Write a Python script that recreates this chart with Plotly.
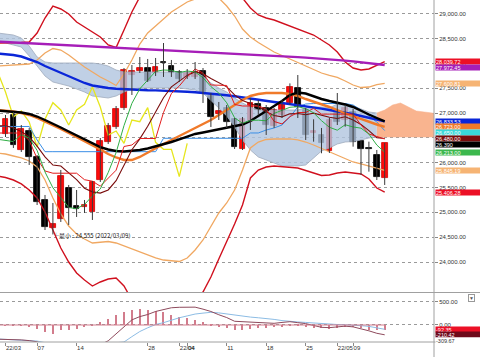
import plotly.graph_objects as go

# ---------------- data ----------------
dates = ["2022-03-01","2022-03-02","2022-03-03","2022-03-04","2022-03-07","2022-03-08","2022-03-09","2022-03-10","2022-03-11",
         "2022-03-14","2022-03-15","2022-03-16","2022-03-17","2022-03-18","2022-03-22","2022-03-23","2022-03-24","2022-03-25",
         "2022-03-28","2022-03-29","2022-03-30","2022-03-31","2022-04-01","2022-04-04","2022-04-05","2022-04-06","2022-04-07",
         "2022-04-08","2022-04-11","2022-04-12","2022-04-13","2022-04-14","2022-04-15","2022-04-18","2022-04-19","2022-04-20",
         "2022-04-21","2022-04-22","2022-04-25","2022-04-26","2022-04-27","2022-04-28","2022-05-02","2022-05-06","2022-05-09",
         "2022-05-10","2022-05-11","2022-05-12","2022-05-13"]

opens = [26581, 26964, 26258, 26641, 26117, 25250, 24686, 24867, 25492, 25129, 25109, 25008, 25653, 26420, 26722, 27105,
         27770, 27851, 27911, 27811, 28033, 27952, 27831, 27730, 27730, 27851, 27347, 26983, 27105, 26877, 26272, 26829,
         27179, 27098, 26742, 26963, 27212, 27515, 27064, 26601, 26560, 26238, 27004, 26863, 27031, 26440, 26305, 26157, 25687]
highs = [26964, 27024, 26762, 26702, 26157, 25351, 25190, 25855, 25553, 25452, 25250, 25633, 26500, 26803, 27145, 27911,
         27972, 28133, 28093, 28113, 28415, 28073, 27871, 27891, 28032, 27911, 27408, 27226, 27165, 26903, 26923, 27307,
         27266, 27165, 27105, 27266, 27601, 27770, 27105, 26877, 26702, 26903, 27407, 27165, 27085, 26460, 26426, 26258, 26400]
lows = [26520, 26299, 26218, 25956, 25149, 24645, 24555, 24807, 24746, 24908, 24988, 24847, 25613, 26379, 26682, 27065,
        27367, 27811, 27629, 27750, 27730, 27730, 27629, 27690, 27690, 27206, 26722, 26863, 26702, 26278, 26258, 26662,
        26963, 26561, 26702, 26903, 27165, 26903, 26460, 26426, 26192, 26198, 26762, 26728, 26325, 25754, 25821, 25653, 25553]
closes = [26883, 26359, 26682, 26117, 25210, 24706, 24766, 25734, 25089, 25069, 25149, 25613, 26440, 26742, 27085, 27871,
          27851, 27911, 27649, 27932, 28013, 27811, 27690, 27811, 27831, 27428, 26923, 27044, 26823, 26319, 26877, 27212,
          27064, 26762, 27064, 27179, 27528, 27125, 26560, 26641, 26393, 26863, 26829, 27111, 26413, 26272, 26272, 25720, 26390]

# indicator lines start one session earlier (2022-02-28 = index -1)
ma_long = [28443, 28435, 28427, 28417, 28409, 28401, 28393, 28385, 28379, 28371, 28363, 28355, 28347, 28341, 28333, 28324,
           28316, 28306, 28298, 28288, 28280, 28272, 28262, 28254, 28244, 28234, 28224, 28218, 28212, 28205, 28199, 28191,
           28183, 28173, 28165, 28157, 28147, 28139, 28131, 28121, 28111, 28099, 28087, 28074, 28060, 28044, 28026, 28008,
           27990, 27972.45]
ma75 = [28203, 28193, 28173, 28143, 28093, 28032, 27951, 27881, 27810, 27740, 27669, 27609, 27558, 27528, 27508, 27494,
        27484, 27476, 27468, 27464, 27460, 27456, 27452, 27443, 27433, 27423, 27411, 27397, 27381, 27363, 27341, 27316,
        27286, 27266, 27246, 27226, 27206, 27185, 27165, 27145, 27119, 27093, 27064, 27038, 27010, 26978, 26943, 26907,
        26871, 26833.53]
ma_black = [27054, 27044, 27034, 27014, 26984, 26933, 26863, 26792, 26712, 26631, 26550, 26470, 26389, 26318, 26268, 26238,
            26228, 26238, 26258, 26288, 26329, 26369, 26419, 26470, 26530, 26581, 26611, 26641, 26671, 26702, 26732, 26772,
            26843, 26943, 27044, 27145, 27246, 27367, 27417, 27397, 27337, 27286, 27246, 27216, 27175, 27125, 27044, 26974,
            26903, 26833]
ma25 = [27064, 27054, 27034, 27004, 26964, 26903, 26833, 26762, 26681, 26601, 26520, 26440, 26359, 26268, 26177, 26107,
        26056, 26056, 26117, 26208, 26298, 26379, 26460, 26540, 26611, 26691, 26772, 26863, 26964, 27064, 27165, 27266,
        27347, 27387, 27407, 27407, 27407, 27387, 27347, 27286, 27236, 27185, 27125, 27064, 26994, 26943, 26883, 26823,
        26772, 26723.00]
bb3_up = [28415, 28415, 28415, 28425, 28435, 28617, 28919, 29161, 29101, 29000, 28839, 28738, 28637, 28536, 28375, 28324,
          28677, 29040, 29343, 29605, 29806, 29947, 30028, 30068, 30088, 30048, 29947, 29826, 29685, 29544, 29423, 29322,
          29121, 28980, 28919, 28879, 28818, 28758, 28697, 28647, 28576, 28476, 28375, 28234, 28032, 27911, 27871, 27891,
          27972, 28039.72]
bb3_lo = [25734, 25704, 25653, 25573, 25452, 25290, 25008, 24645, 24282, 24000, 23778, 23637, 23516, 23597, 23657, 23678,
          23516, 23234, 23032, 22871, 22770, 22730, 22770, 22871, 23032, 23234, 23395, 23698, 24061, 24403, 24766, 25149,
          25694, 25855, 25915, 25935, 25925, 25915, 25895, 25845, 25794, 25744, 25754, 25794, 25814, 25794, 25774, 25673,
          25491, 25406.28]
bb2_up = [27951, 27962, 27972, 27982, 27992, 28072, 28214, 28304, 28274, 28173, 28052, 27931, 27830, 27730, 27649, 27558,
          27790, 28072, 28395, 28617, 28758, 28899, 29040, 29141, 29242, 29302, 29363, 29383, 29322, 29161, 28959, 28697,
          28536, 28425, 28324, 28234, 28163, 28093, 28022, 27951, 27871, 27810, 27760, 27720, 27649, 27568, 27518, 27528,
          27578, 27600.81]
bb2_lo = [26198, 26177, 26137, 26097, 26036, 25915, 25653, 25290, 24968, 24726, 24565, 24464, 24383, 24393, 24413, 24383,
          24323, 24262, 24212, 24141, 24081, 24040, 24020, 24010, 24081, 24242, 24444, 24726, 24988, 25190, 25452, 25855,
          26298, 26419, 26470, 26480, 26480, 26480, 26460, 26419, 26359, 26288, 26218, 26147, 26077, 26016, 25976, 25935,
          25885, 25845.19]
ma5 = [26474, 26446, 26428, 26570, 26498, 26250, 25815, 25496, 25307, 25101, 25073, 25161, 25331, 25472, 25803, 26206,
       26750, 27198, 27492, 27673, 27843, 27871, 27863, 27819, 27851, 27831, 27714, 27537, 27407, 27210, 26907, 26797,
       26855, 26859, 26847, 26996, 27056, 27119, 27132, 27091, 27007, 26849, 26716, 26657, 26767, 26722, 26698, 26579,
       26358, 26213.00]
ma10 = [26742, 26748, 26702, 26630, 26522, 26335, 26119, 25955, 25936, 25802, 25662, 25488, 25414, 25389, 25452, 25639,
        25956, 26264, 26482, 26738, 27024, 27311, 27531, 27656, 27762, 27837, 27793, 27700, 27613, 27531, 27369, 27256,
        27196, 27133, 27028, 26952, 26927, 26987, 26995, 26969, 27001, 26953, 26918, 26894, 26929, 26864, 26774, 26648,
        26507, 26490]
tenkan = [26600, 26600, 26600, 26600, 26450, 26087, 25835, 25790, 25790, 25790, 25790, 25659, 25629, 25528, 25679, 25850,
          26329, 26359, 26490, 26490, 26490, 27014, 27397, 27549, 27740, 27891, 27811, 27569, 27569, 27559, 27176, 27145,
          27145, 27145, 27085, 26833, 26783, 26930, 27014, 27014, 27098, 26981, 26981, 26981, 26981, 26981, 26762, 26581,
          26530, 26480.00]
kijun = [26732, 26732, 26732, 26732, 26732, 26460, 26224, 26224, 26224, 26224, 26224, 26224, 26224, 26224, 26224, 26224,
         26224, 26224, 26224, 26224, 26224, 26494, 26494, 26494, 26494, 26494, 26494, 26494, 26494, 26494, 26494, 26494,
         26601, 26601, 26661, 26702, 26762, 26923, 27125, 27185, 27195, 27195, 27195, 27195, 27195, 27165, 27064, 26943,
         26823, 26650.00]
# lagging span: plotted from 2022-02-28 (index -1)
chikou = [27831, 27428, 26923, 27044, 26823, 26319, 26877, 27212, 27064, 26762, 27064, 27179, 27528, 27125, 26560, 26641,
          26393, 26863, 26829, 27111, 26413, 26272, 26272, 25720, 26390]
# cloud spans, index -1 .. 55 (extends past last session)
span_a = [28617, 28597, 28576, 28516, 28355, 28133, 28032, 28012, 28012, 28012, 28012, 28012, 28012, 27992, 27951, 27871,
          27830, 27830, 27830, 27830, 27830, 27830, 27830, 27830, 27830, 27830, 27750, 27609, 27508, 27427, 27306, 27206,
          27125, 27064, 27064, 27064, 27064, 27064, 27064, 27105, 27125, 27125, 27105, 27185, 27185, 27145, 27085, 27024,
          27004, 27064, 27165, 27206, 27125, 27044, 27024, 27004, 26964]
span_b = [28435, 28415, 28375, 28334, 28153, 27951, 27750, 27629, 27589, 27548, 27488, 27427, 27347, 27326, 27306, 27347,
          27427, 27488, 27508, 27508, 27508, 27508, 27508, 27508, 27488, 27468, 27407, 27266, 27105, 26944, 26722, 26460,
          26258, 26117, 26056, 25996, 25936, 25936, 25936, 25956, 26097, 26238, 26298, 26379, 26419, 26429, 26460, 26500,
          26520, 26520, 26520, 26520, 26520, 26520, 26520, 26520, 26520]
# MACD panel, index -1 .. 48
macd = [-305, -307, -310, -320, -335, -360, -430, -480, -470, -480, -480, -460, -440, -420, -340, -190, -20, 110, 180, 225,
        290, 335, 370, 380, 385, 383, 340, 290, 220, 160, 80, 70, 60, 50, 42, 36, 55, 71, 50, 30, -10, -50, -57, -45, -25,
        -40, -75, -125, -178, -210.42]
signal = [-300, -307, -312, -318, -325, -345, -380, -410, -430, -440, -440, -430, -420, -410, -395, -380, -365, -250, -140,
          -60, 10, 50, 110, 155, 195, 235, 255, 272, 260, 235, 210, 190, 170, 155, 145, 120, 95, 75, 65, 55, 40, 36, 20, 10,
          5, 0, -15, -30, -60, -92.35]
hist = [-5, -5, -8, -10, -15, -72, -143, -178, -107, -86, -72, -36, 10, 71, 143, 215, 300, 336, 358, 336, 307, 286, 236,
        193, 165, 122, 71, 20, -15, -50, -107, -93, -72, -57, -57, -36, -15, 10, 20, -36, -50, -57, -72, -50, -21, -36, -57,
        -86, -107, -93]
macd_extra_label = -309.67

tick_dates = ["2022-03-01", "2022-03-07", "2022-03-14", "2022-03-28", "2022-04-01", "2022-04-04", "2022-04-11",
              "2022-04-18", "2022-04-25", "2022-05-02", "2022-05-09"]
tick_text = ["22/03", "07", "14", "28", "22/04", "04", "11", "18", "25", "22/05", "09"]
price_ticks = [24000, 24500, 25000, 25500, 26000, 26500, 27000, 27500, 28000, 28500, 29000]
macd_ticks = [0, 500]
low_text = "最小 : 24,555 (2022/03/09)"

# ---------------- figure ----------------
n = len(dates)
cx = list(range(n))
ix = list(range(-1, n))
cloud_x = list(range(-1, -1 + len(span_a)))
chikou_x = list(range(-1, -1 + len(chikou)))

FONT = "Liberation Sans"
PLOT_H = 342.0
Y1_DOM = [49.5 / PLOT_H, 1.0]
Y2_DOM = [0.0, 48.5 / PLOT_H]
Y1_RANGE = [23385, 29282]
Y2_RANGE = [-365, 676]

fig = go.Figure()

def line(xs, ys, color, width, xa="x", ya="y"):
    fig.add_trace(go.Scatter(x=xs, y=ys, mode="lines", line=dict(color=color, width=width),
                             hoverinfo="skip", showlegend=False, xaxis=xa, yaxis=ya))

# cloud: past part (blue-grey) and future part (salmon)
k = cloud_x.index(n - 2)
fig.add_trace(go.Scatter(x=cloud_x[:k + 1], y=span_b[:k + 1], mode="lines", line=dict(color="#9fabbd", width=0.8),
                         hoverinfo="skip", showlegend=False))
fig.add_trace(go.Scatter(x=cloud_x[:k + 1], y=span_a[:k + 1], mode="lines", line=dict(color="#9fabbd", width=0.8),
                         fill="tonexty", fillcolor="rgba(176,196,222,0.80)", hoverinfo="skip", showlegend=False))
fig.add_trace(go.Scatter(x=cloud_x[k:], y=span_b[k:], mode="lines", line=dict(color="#f8b18c", width=0.5),
                         hoverinfo="skip", showlegend=False))
fig.add_trace(go.Scatter(x=cloud_x[k:], y=span_a[k:], mode="lines", line=dict(color="#f8b18c", width=0.5),
                         fill="tonexty", fillcolor="#f9b48f", hoverinfo="skip", showlegend=False))

# bands and averages
line(ix, bb3_up, "#d0101e", 1.4)
line(ix, bb3_lo, "#d0101e", 1.4)
line(ix, bb2_up, "#f0a862", 1.3)
line(ix, bb2_lo, "#f0a862", 1.3)
line(chikou_x, chikou, "#e6e61e", 1.3)
line(ix, kijun, "#3a8ee6", 1.0)
line(ix, ma_long, "#a61eb8", 2.4)
line(ix, ma75, "#0a26d8", 2.4)
line(ix, ma25, "#f07a2a", 2.4)
line(ix, ma_black, "#000000", 2.4)
line(ix, ma10, "#7a0c0c", 1.1)
line(ix, tenkan, "#e21c1c", 1.0)
line(ix, ma5, "#2fae45", 1.0)

# candles: wicks then bodies
wx, wy = [], []
for i in cx:
    wx += [i, i, None]
    wy += [highs[i], lows[i], None]
fig.add_trace(go.Scatter(x=wx, y=wy, mode="lines", line=dict(color="#3a3a3a", width=1),
                         hoverinfo="skip", showlegend=False))
up = [i for i in cx if closes[i] >= opens[i]]
dn = [i for i in cx if closes[i] < opens[i]]
fig.add_trace(go.Bar(x=up, base=[opens[i] for i in up], y=[closes[i] - opens[i] for i in up], width=0.72,
                     marker=dict(color="#ff0a0a", line=dict(color="#d00000", width=0.8)),
                     hoverinfo="skip", showlegend=False, xaxis="x", yaxis="y"))
fig.add_trace(go.Bar(x=dn, base=[closes[i] for i in dn], y=[opens[i] - closes[i] for i in dn], width=0.72,
                     marker=dict(color="#000000", line=dict(color="#000000", width=0.8)),
                     hoverinfo="skip", showlegend=False, xaxis="x", yaxis="y"))

# MACD panel
fig.add_trace(go.Bar(x=ix, y=hist, width=0.14, marker=dict(color="#d27c8c", line=dict(width=0)),
                     hoverinfo="skip", showlegend=False, xaxis="x2", yaxis="y2"))
fig.add_shape(type="line", xref="x2", yref="y2", x0=ix[0], x1=ix[-1], y0=0, y1=0,
              line=dict(color="#d27c8c", width=1))
line(ix, signal, "#8cbce4", 1.0, "x2", "y2")
line(ix, macd, "#8e4a5c", 1.0, "x2", "y2")

xr = [-0.696, 54.24]
tickfont = dict(size=6, color="#333333", family=FONT)
fig.update_layout(
    width=480, height=357, margin=dict(l=0, r=46, t=0, b=15),
    paper_bgcolor="white", plot_bgcolor="white", showlegend=False, barmode="overlay", bargap=0,
    font=dict(family=FONT, size=6, color="#333333"),
    xaxis=dict(domain=[0, 1], range=xr, anchor="y", showticklabels=False, showgrid=False, zeroline=False, ticks=""),
    xaxis2=dict(domain=[0, 1], range=xr, anchor="y2", matches="x", tickmode="array",
                tickvals=[dates.index(d) for d in tick_dates], ticktext=tick_text, tickangle=0,
                ticklabelposition="outside right", ticks="outside", ticklen=3, tickcolor="#888888",
                tickfont=tickfont, showgrid=False, zeroline=False),
    yaxis=dict(domain=Y1_DOM, range=Y1_RANGE, side="right", tickmode="array", tickvals=price_ticks,
               tickformat=",.2f", ticks="outside", ticklen=3, tickcolor="#888888", tickfont=tickfont,
               showgrid=True, gridcolor="#9a9a9a", griddash="dot", gridwidth=1, zeroline=False),
    yaxis2=dict(domain=Y2_DOM, range=Y2_RANGE, side="right", tickmode="array", tickvals=macd_ticks,
                tickformat=",.2f", ticks="outside", ticklen=3, tickcolor="#888888", tickfont=tickfont,
                showgrid=True, gridcolor="#9a9a9a", griddash="dot", gridwidth=1, zeroline=False),
)

# frame lines
for y0 in [Y1_DOM[0], 0.0]:
    fig.add_shape(type="line", xref="paper", yref="paper", x0=0, x1=480 / 434, y0=y0, y1=y0,
                  line=dict(color="#a0a0a0", width=1))
fig.add_shape(type="line", xref="paper", yref="paper", x0=1, x1=1, y0=-15 / PLOT_H, y1=1,
              line=dict(color="#a0a0a0", width=1))

# low annotation
i_low = lows.index(min(lows))
fig.add_annotation(x=cx[i_low], y=lows[i_low], xref="x", yref="y", text="└" + low_text, showarrow=False,
                   xanchor="left", yanchor="middle", xshift=-2, yshift=-1,
                   font=dict(size=6, color="#222222", family="Noto Sans CJK JP"))

# right-hand value boxes, stacked so they do not overlap
def to_paper(v, dom, rng):
    return dom[0] + (v - rng[0]) / (rng[1] - rng[0]) * (dom[1] - dom[0])

BOX_H = 5.4
def stacked_boxes(items, dom, rng):
    pos = []
    last = None
    for val, text, bg, fg in sorted(items, key=lambda t: -t[0]):
        py = to_paper(val, dom, rng)
        if last is not None and last - py < BOX_H / PLOT_H:
            py = last - BOX_H / PLOT_H
        last = py
        fig.add_annotation(x=1, y=py, xref="paper", yref="paper", text=text, showarrow=False, xanchor="left",
                           yanchor="middle", xshift=1, width=44, height=5, align="left", bgcolor=bg,
                           borderpad=0, font=dict(size=5.5, color=fg, family=FONT))

fmt = lambda v: f"{v:,.2f}"
main_items = [
    (bb3_up[-1], fmt(bb3_up[-1]), "#ec1026", "white"),
    (ma_long[-1], fmt(ma_long[-1]), "#a61eb8", "white"),
    (bb2_up[-1], fmt(bb2_up[-1]), "#f6b474", "white"),
    (ma75[-1], fmt(ma75[-1]), "#0a26d8", "white"),
    (ma25[-1], fmt(ma25[-1]), "#f07a2a", "white"),
    (kijun[-1], fmt(kijun[-1]), "#3ad8d8", "white"),
    (tenkan[-1], fmt(tenkan[-1]), "#7a0c0c", "white"),
    (closes[-1], f"{closes[-1]:,}", "#000000", "white"),
    (ma5[-1], fmt(ma5[-1]), "#3cb84e", "white"),
    (bb2_lo[-1], fmt(bb2_lo[-1]), "#f6b474", "white"),
    (bb3_lo[-1], fmt(bb3_lo[-1]), "#ec1026", "white"),
]
stacked_boxes(main_items, Y1_DOM, Y1_RANGE)
macd_items = [
    (signal[-1], fmt(signal[-1]), "#ec1026", "white"),
    (macd[-1], fmt(macd[-1]), "#6e0a1a", "white"),
    (macd_extra_label, fmt(macd_extra_label), "#ffffff", "#333333"),
]
stacked_boxes(macd_items, Y2_DOM, Y2_RANGE)

fig.add_annotation(x=471 / 434, y=(PLOT_H - 297.5) / PLOT_H, xref="paper", yref="paper", text="▼", showarrow=False,
                   font=dict(size=5, color="#555555"), bordercolor="#999999", borderwidth=1, borderpad=0,
                   bgcolor="white", yanchor="middle", xanchor="center")

fig.write_html("out.html")
